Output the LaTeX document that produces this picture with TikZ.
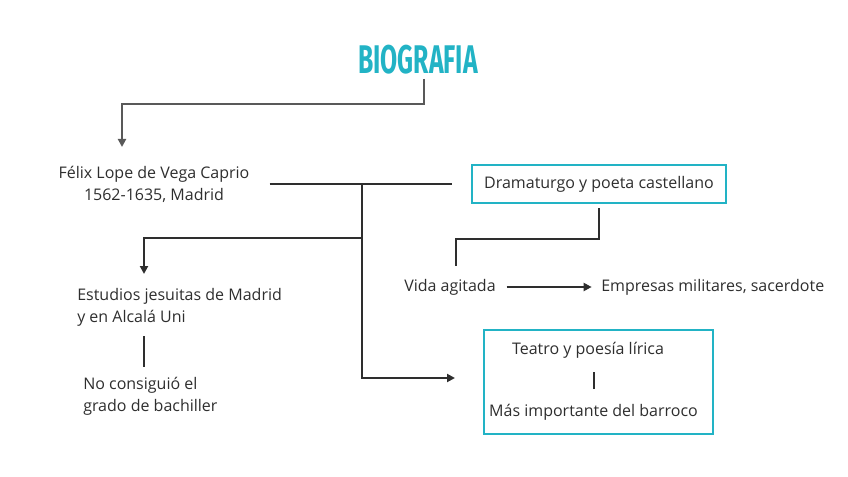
\documentclass[tikz,border=0pt]{standalone}
\usepackage{fontspec}
\usepackage{graphicx}
\setmainfont{Open Sans}
\newfontfamily\titlefont{Fira Sans}
\usetikzlibrary{arrows.meta}
\definecolor{bioteal}{HTML}{22B3C5}
\definecolor{inkgrey}{HTML}{2E2E2E}

\begin{document}
\begin{tikzpicture}[x=0.75pt, y=-0.75pt,
	font=\fontsize{12}{16.5}\selectfont,
	txt/.style={inner sep=0pt, text=inkgrey},
	tealbox/.style={draw=bioteal, line width=1.9pt, inner sep=0pt},
	link/.style={line width=1.5pt, draw=inkgrey},
	tip/.style={-{Triangle[length=6pt,width=6pt]}}]

	\def \px {0.75pt}
	\useasboundingbox (0,0) rectangle (848,477);

	\node (Title) at (418,60) [inner sep=0pt, text=bioteal, font=\titlefont\bfseries\fontsize{30}{30}\selectfont]{\scalebox{0.62}[1]{BIOGRAFIA}};

	\node (Felix) at (154,184) [txt, align=center]{Félix Lope de Vega Caprio\\1562-1635, Madrid};
	\node (Drama) at (599,184) [tealbox, minimum width=254*\px, minimum height=38*\px]{};
	\node at (Drama) [txt]{Dramaturgo y poeta castellano};

	\node (Vida) at (450,287) [txt]{Vida agitada};
	\node (Empresas) at (601,287) [txt, anchor=west]{Empresas militares, sacerdote};

	\node (Estudios) at (77,307) [txt, anchor=west, align=left]{Estudios jesuitas de Madrid\\y en Alcalá Uni};
	\node (Consiguio) at (83,396) [txt, anchor=west, align=left]{No consiguió el\\grado de bachiller};

	\node (Obra) at (598.5,382) [tealbox, minimum width=229*\px, minimum height=104*\px]{};
	\node (Teatro) at (588,350) [txt]{Teatro y poesía lírica};
	\node (Mas) at (593.5,412) [txt]{Más importante del barroco};

	\coordinate (FelixTop) at (122,147);
	\coordinate (Hub) at (362,184);
	\coordinate (HubMid) at (362,238);
	\coordinate (EstTop) at (144,274);
	\coordinate (ObraIn) at (455,378);

	%title to name
	\draw[link, draw=black!65, tip] ([xshift=4.5pt, yshift=-3pt]Title.south) -- ++(0,25) -| (FelixTop);

	\draw[link, shorten <=15pt, shorten >=14pt] (Felix.east) -- (Drama.west);
	\draw[link, tip] (HubMid) -| (EstTop);
	\draw[link, tip] (Hub) |- (ObraIn);
	\draw[link, shorten <=7.5pt, shorten >=7.5pt] (Estudios.south -| EstTop) -- (Consiguio.north -| EstTop);

	\draw[link] ([yshift=-3pt]Drama.south) -- ++(0,31) -| ([shift={(6,-13)}]Vida.north);
	\draw[link, tip, shorten <=8pt, shorten >=7pt] (Vida) -- (Empresas);

	\draw[link, shorten <=11pt, shorten >=10pt] (Mas.north) -- (Mas.north |- Teatro.south);

\end{tikzpicture}
\end{document}
